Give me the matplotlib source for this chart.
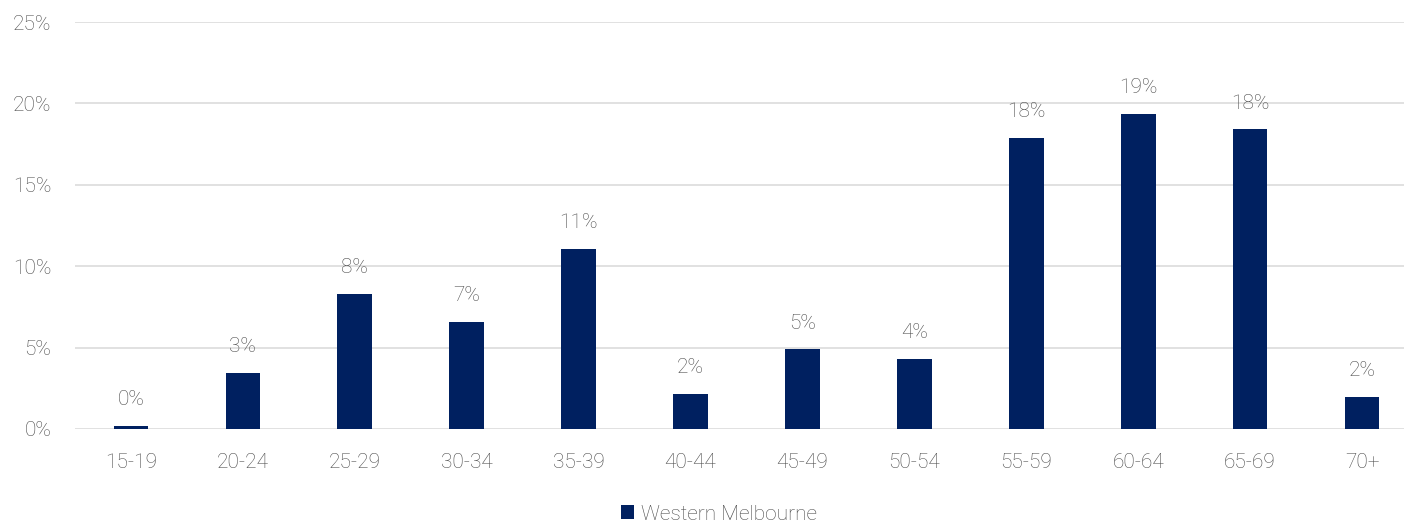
import matplotlib
matplotlib.use("Agg")
import matplotlib.pyplot as plt

plt.rcParams['font.family'] = ['Roboto', 'DejaVu Sans']

age_groups = ["15-19", "20-24", "25-29", "30-34", "35-39", "40-44",
              "45-49", "50-54", "55-59", "60-64", "65-69", "70+"]
western_melbourne = [0.2, 3.45, 8.3, 6.6, 11.05, 2.15, 4.9, 4.3, 17.9, 19.35, 18.4, 1.97]
y_ticks = [0, 5, 10, 15, 20, 25]

navy = "#002060"
grey_text = "#4a4a4a"
fs = 15

fig = plt.figure(figsize=(14.04, 5.24), dpi=100)
ax = fig.add_axes([75/1404, 95/524, 1343/1404, 407/524])

x = list(range(len(age_groups)))
bars = ax.bar(x, western_melbourne, width=0.31, color=navy, zorder=3,
              label="Western Melbourne")

# data labels above each bar
for xi, v in zip(x, western_melbourne):
    ax.annotate(f"{round(v):.0f}%", (xi, v), xytext=(0, 12), textcoords="offset points",
                ha="center", va="bottom", fontsize=fs, color=grey_text, fontweight="light")

ax.set_xlim(-0.5, len(age_groups) - 0.5)
ax.set_ylim(0, 25)
ax.set_yticks(y_ticks)
ax.set_yticklabels([f"{t}%" for t in y_ticks])
ax.set_xticks(x)
ax.set_xticklabels(age_groups)
ax.yaxis.grid(True, color="#d9d9d9", linewidth=1.1, zorder=0)
ax.set_axisbelow(True)
for s in ax.spines.values():
    s.set_visible(False)
ax.tick_params(axis="both", length=0, labelsize=fs, labelcolor=grey_text)
ax.tick_params(axis="y", pad=17)
ax.tick_params(axis="x", pad=17)
for lbl in ax.get_xticklabels() + ax.get_yticklabels():
    lbl.set_fontweight("light")

leg = fig.legend(handles=[bars], loc="lower center", bbox_to_anchor=(0.512, -0.035),
                 frameon=False, fontsize=fs, handlelength=0.65, handleheight=0.65,
                 handletextpad=0.3)
for t in leg.get_texts():
    t.set_color(grey_text)
    t.set_fontweight("light")

fig.savefig("out.png", dpi=100)
